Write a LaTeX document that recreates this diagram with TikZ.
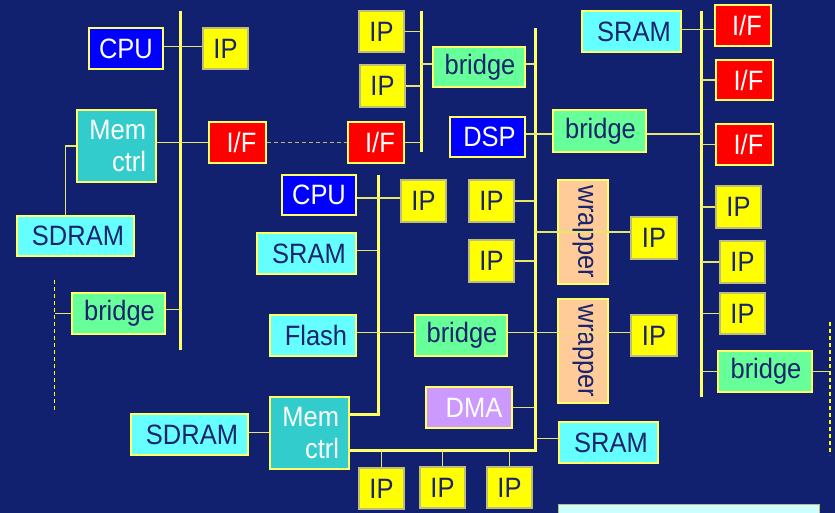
\documentclass[tikz,border=0pt]{standalone}
\usepackage{fontspec}
\setmainfont{Liberation Sans}[FakeStretch=0.91]
\usetikzlibrary{calc}

\definecolor{bg}{RGB}{17,32,111}
\definecolor{ink}{RGB}{25,35,110}
\definecolor{cpublue}{RGB}{0,0,255}
\definecolor{memteal}{RGB}{51,204,204}
\definecolor{ramcyan}{RGB}{102,255,255}
\definecolor{brgreen}{RGB}{102,255,153}
\definecolor{ifred}{RGB}{255,0,0}
\definecolor{ipyellow}{RGB}{255,255,0}
\definecolor{wrpeach}{RGB}{255,204,153}
\definecolor{dmapurple}{RGB}{204,153,255}
\definecolor{boxedge}{RGB}{255,255,102}
\definecolor{ipedge}{RGB}{190,190,120}
\definecolor{busyellow}{RGB}{255,255,102}
\definecolor{wire}{RGB}{230,230,110}
\definecolor{dashgrey}{RGB}{185,185,120}
\definecolor{notecyan}{RGB}{204,255,255}

% shifts a label to the right inside its box
\newcommand\rsh[2]{\hspace*{#1pt}#2}

\begin{document}
\begin{tikzpicture}[x=1pt,y=-1pt,
  blk/.style={draw=boxedge, line width=1.2pt, inner sep=0pt, text=ink,
    font=\fontsize{28}{32}\selectfont},
  cpu/.style={blk, fill=cpublue, text=white},
  memc/.style={blk, fill=memteal, text=white, align=right, text width=59pt,
    minimum width=79pt, minimum height=72pt},
  ram/.style={blk, fill=ramcyan},
  brg/.style={blk, fill=brgreen},
  ifc/.style={blk, fill=ifred, text=white},
  ipc/.style={blk, fill=ipyellow, draw=ipedge, minimum width=45pt, minimum height=41pt},
  wrp/.style={blk, fill=wrpeach, rotate=-90, minimum width=104pt, minimum height=50pt},
  dmac/.style={blk, fill=dmapurple, text=white},
  bus/.style={draw=busyellow, line width=3pt},
  wirec/.style={draw=wire, line width=1.5pt},
  dashlink/.style={draw=dashgrey, line width=1.5pt, dash pattern=on 4pt off 3pt},
  busext/.style={draw=ipyellow, line width=1.2pt, dash pattern=on 4pt off 3pt}]

\useasboundingbox[fill=bg] (0,0) rectangle (835,513);

% ---- bus end points ----
\coordinate (b1t) at (180,11);   \coordinate (b1b) at (180,350);
\coordinate (b2t) at (421,11);   \coordinate (b2b) at (421,152);
\coordinate (b3t) at (535,28);   \coordinate (b3b) at (535,450);
\coordinate (b4t) at (701.5,11); \coordinate (b4b) at (701.5,397);
\coordinate (b5t) at (378,175);  \coordinate (b5b) at (378,414);
\coordinate (dlt) at (54.5,280); \coordinate (dlb) at (54.5,413);
\coordinate (drt) at (830,322);  \coordinate (drb) at (830,455);

% ---- left subsystem ----
\node[cpu, minimum width=74pt, minimum height=41pt] (cpu1) at (126,48.5) {CPU};
\node[ipc] (ip1) at (225.5,48.5) {IP};
\node[memc] (mem1) at (116.5,146) {Mem\\ctrl};
\node[ifc, minimum width=57pt, minimum height=41pt] (if1) at (237.5,142.5) {\rsh{8}{I/F}};
\node[ram, minimum width=117pt, minimum height=40pt] (sdram1) at (75.5,236) {\rsh{5}{SDRAM}};
\node[brg, minimum width=93pt, minimum height=41pt] (br1) at (118.5,313.5) {\rsh{2}{bridge}};

% ---- upper middle ----
\node[ipc] (ipa) at (381.5,31.5) {IP};
\node[ipc, minimum height=42pt] (ipb) at (382.5,86) {IP};
\node[ifc, minimum width=56pt, minimum height=41pt] (if2) at (376,142.5) {\rsh{8}{I/F}};
\node[brg, minimum width=92pt, minimum height=40pt] (brt) at (479,67) {\rsh{2}{bridge}};
\node[cpu, minimum width=75pt, minimum height=40pt] (dsp) at (487.5,137) {\rsh{4}{DSP}};

% ---- right subsystem ----
\node[ram, minimum width=99pt, minimum height=41pt] (sramt) at (631.5,31.5) {\rsh{5}{SRAM}};
\node[brg, minimum width=93pt, minimum height=42pt] (brr1) at (599.5,131) {\rsh{2}{bridge}};
\node[ifc, minimum width=56pt, minimum height=41pt] (ifr1) at (743,25.5) {\rsh{8}{I/F}};
\node[ifc, minimum width=57pt, minimum height=40pt] (ifr2) at (744.5,80) {\rsh{8}{I/F}};
\node[ifc, minimum width=57pt, minimum height=41pt] (ifr3) at (744.5,144.5) {\rsh{8}{I/F}};
\node[ipc, minimum height=42pt] (ipr1) at (738.5,207) {IP};
\node[ipc, minimum height=42pt] (ipr2) at (742.5,262) {IP};
\node[ipc] (ipr3) at (742.5,313.5) {IP};
\node[brg, minimum width=94pt, minimum height=41pt] (brr2) at (765,371.5) {\rsh{2}{bridge}};

% ---- lower middle ----
\node[cpu, minimum width=74pt, minimum height=40pt] (cpu2) at (319,195) {CPU};
\node[ipc, minimum height=42pt] (ipm) at (423.5,201) {IP};
\node[ram, minimum width=99pt, minimum height=41pt] (sramm) at (306.5,253.5) {\rsh{5}{SRAM}};
\node[ram, minimum width=86pt, minimum height=41pt] (flash) at (313,335.5) {\rsh{6}{Flash}};
\node[brg, minimum width=92pt, minimum height=41pt] (brm) at (461,335.5) {\rsh{2}{bridge}};
\node[ipc, minimum height=42pt] (ipc1) at (491.5,201) {IP};
\node[ipc, minimum height=42pt] (ipd1) at (491.5,261) {IP};
\node[wrp] (wr1) at (583,232) {wrapper};
\node[wrp] (wr2) at (583,351) {wrapper};
\node[ipc, minimum width=46pt, minimum height=42pt] (ipw1) at (654,238) {IP};
\node[ipc, minimum width=46pt] (ipw2) at (654,335.5) {IP};
\node[dmac, minimum width=86pt, minimum height=41pt] (dma) at (469,407.5) {\rsh{10}{DMA}};
\node[ram, minimum width=99pt, minimum height=41pt] (sramb) at (608.5,442.5) {\rsh{5}{SRAM}};
\node[memc] (mem2) at (309.5,433) {Mem\\ctrl};
\node[ram, minimum width=117pt, minimum height=41pt] (sdram2) at (189.5,434.5) {\rsh{5}{SDRAM}};
\node[ipc] (ipb1) at (381.5,488.5) {IP};
\node[ipc] (ipb2) at (442.5,487.5) {IP};
\node[ipc] (ipb3) at (509.5,487.5) {IP};

% ---- box running off the lower edge ----
\node[draw=ipedge, line width=0.8pt, fill=notecyan, inner sep=0pt,
  minimum width=261pt, minimum height=30pt] (note) at (688.5,519) {};

% ---- buses ----
\draw[bus] (b1t) -- (b1b);
\draw[bus] (b2t) -- (b2b);
\draw[bus] (b3t) -- (b3b) -- (b3b -| mem2.east);
\draw[bus] (b4t) -- (b4b);
\draw[bus] (b5t) -- (b5b) -- (b5b -| mem2.east);
\draw[busext] (dlt) -- (dlb);
\draw[busext] (drt) -- (drb);

% ---- links, left ----
\draw[wirec] ([yshift=2pt]cpu1.east) -- ([yshift=2pt]ip1.west);
\draw[wirec] (mem1.east |- if1.west) -- (if1.west);
\draw[dashlink] (if1.east) -- (if2.west);
\draw[wirec] ([xshift=49pt]sdram1.north west) |- (mem1.west);
\draw[wirec] ([yshift=4pt]br1.east) -- ([yshift=4pt]br1.east -| b1t);
\draw[wirec] (br1.west) -- (br1.west -| dlt);

% ---- links, upper middle ----
\draw[wirec] (ipa.east) -- (ipa.east -| b2t);
\draw[wirec] (ipb.east) -- (ipb.east -| b2t);
\draw[wirec] (if2.east) -- (if2.east -| b2t);
\draw[wirec] ([yshift=3pt]brt.west -| b2t) -- ([yshift=3pt]brt.west);
\draw[wirec] ([yshift=3pt]brt.east) -- ([yshift=3pt]brt.east -| b3t);
\draw[wirec] ([yshift=3pt]dsp.east) -- ([yshift=3pt]dsp.east -| brr1.west);

% ---- links, right ----
\draw[wirec] ([yshift=-3pt]brr1.east) -- ([yshift=-3pt]brr1.east -| b4t);
\draw[wirec] ([yshift=2pt]sramt.east) -- ([yshift=2pt]sramt.east -| ifr1.west);
\draw[wirec] (ifr2.west -| b4t) -- (ifr2.west);
\draw[wirec] (ifr3.west -| b4t) -- (ifr3.west);
\draw[wirec] (ipr1.west -| b4t) -- (ipr1.west);
\draw[wirec] (ipr2.west -| b4t) -- (ipr2.west);
\draw[wirec] (ipr3.west -| b4t) -- (ipr3.west);
\draw[wirec] (brr2.west -| b4t) -- (brr2.west);
\draw[wirec] (brr2.east) -- (brr2.east -| drt);

% ---- links, lower middle ----
\draw[wirec] ([yshift=-3pt]cpu2.east) -- ([yshift=-3pt]cpu2.east -| ipm.west);
\draw[wirec] ([yshift=3pt]sramm.east) -- ([yshift=3pt]sramm.east -| b5t);
\draw[wirec] ([yshift=3pt]flash.east) -- ([yshift=3pt]brm.west);
\draw[wirec] ([yshift=3pt]brm.east) -- ([yshift=3pt]brm.east -| wr2.north);
\draw[wirec] ([yshift=3pt]brm.east -| wr2.south) -- ([yshift=3pt]brm.east -| ipw2.west);
\draw[wirec] (wr1.north -| b3t) -- (wr1.north);
\draw[wirec] (wr1.south) -- (wr1.south -| ipw1.west);
\draw[wirec] (ipc1.east) -- (ipc1.east -| b3t);
\draw[wirec] (ipd1.east) -- (ipd1.east -| b3t);
\draw[wirec] (dma.east) -- (dma.east -| b3t);
\draw[wirec] ([yshift=4pt]sramb.west -| b3t) -- ([yshift=4pt]sramb.west);
\draw[wirec] ([yshift=2pt]sdram2.east) -- ([yshift=2pt]sdram2.east -| mem2.west);
\draw[wirec] (ipb1.north |- b3b) -- (ipb1.north);
\draw[wirec] (ipb2.north |- b3b) -- (ipb2.north);
\draw[wirec] (ipb3.north |- b3b) -- (ipb3.north);

\end{tikzpicture}
\end{document}
